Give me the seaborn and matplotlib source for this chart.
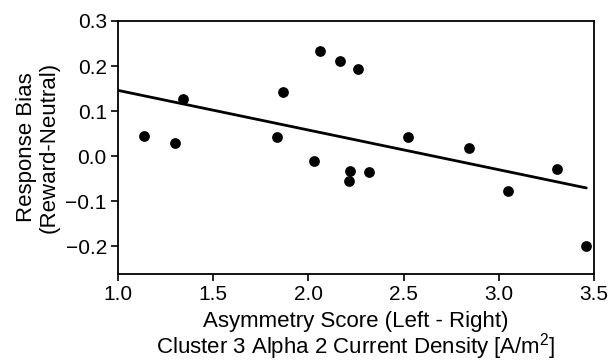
import numpy as np
import pandas as pd
import matplotlib
matplotlib.use("Agg")
import matplotlib.pyplot as plt
import seaborn as sns

asymmetry = [1.137, 1.298, 1.340, 1.837, 1.865, 2.028, 2.063, 2.165, 2.260,
             2.219, 2.212, 2.319, 2.523, 2.844, 3.047, 3.305, 3.460]
response_bias = [0.044, 0.028, 0.126, 0.043, 0.142, -0.012, 0.233, 0.211, 0.194,
                 -0.033, -0.056, -0.036, 0.043, 0.018, -0.078, -0.029, -0.200]
x_ticks = [1.0, 1.5, 2.0, 2.5, 3.0, 3.5]
y_ticks = [-0.2, -0.1, 0.0, 0.1, 0.2, 0.3]

df = pd.DataFrame({"x": asymmetry, "y": response_bias})

sns.set_theme(style="ticks")
plt.rcParams['font.family'] = ['Liberation Sans', 'DejaVu Sans']
plt.rcParams['text.color'] = 'black'
plt.rcParams['axes.labelcolor'] = 'black'
plt.rcParams['mathtext.fontset'] = 'custom'
plt.rcParams['mathtext.rm'] = 'Liberation Sans'

fig = plt.figure(figsize=(6.11, 3.62), dpi=100)
ax = fig.add_axes([0.193, 0.243, 0.779, 0.699])
ax.set_xlim(1.0, max(asymmetry))
sns.regplot(data=df, x="x", y="y", ax=ax, ci=None, truncate=False,
            scatter_kws=dict(s=60, color="black", linewidths=0, alpha=1, zorder=3),
            line_kws=dict(color="black", lw=2))
ax.set_xlim(1.0, 3.5)
ax.set_ylim(-0.262, 0.3)
ax.set_xticks(x_ticks)
ax.set_yticks(y_ticks)
ax.set_xticklabels([f"{v:.1f}" for v in x_ticks])
ax.set_yticklabels([f"{v:.1f}".replace("-", "\u2212") for v in y_ticks])
ax.tick_params(direction="out", length=5, width=1.2, labelsize=15, colors="black", pad=3)
for s in ax.spines.values():
    s.set_linewidth(1.3)
    s.set_color("black")
ax.set_xlabel("Asymmetry Score (Left - Right)\nCluster 3 Alpha 2 Current Density [A/m$^\\mathrm{2}$]",
              fontsize=16, linespacing=0.95, va="top")
ax.xaxis.set_label_coords(0.5, -0.145)
ax.set_ylabel("Response Bias\n(Reward-Neutral)", fontsize=16, labelpad=4, linespacing=1.1)
fig.savefig("out.png", dpi=100)
